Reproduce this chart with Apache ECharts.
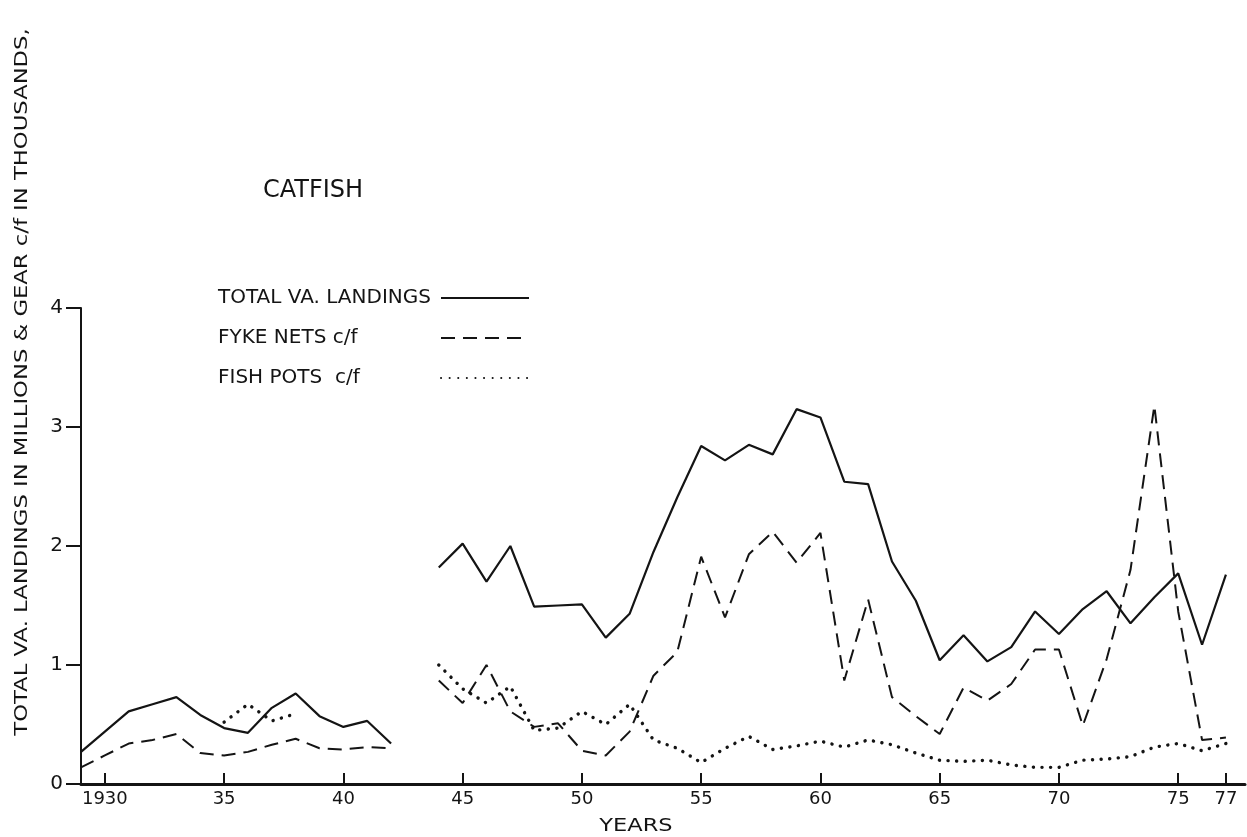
<!DOCTYPE html>
<html>
<head>
<meta charset="utf-8">
<script src="https://cdn.jsdelivr.net/npm/echarts@6/dist/echarts.min.js"></script>
<style>
html,body{margin:0;padding:0;background:#fff;}
#chart{width:1247px;height:837px;}
</style>
</head>
<body>
<div id="chart"></div>
<script>
// ---- data ----
const years = [1929,1930,1931,1932,1933,1934,1935,1936,1937,1938,1939,1940,1941,1942,1943,
  1944,1945,1946,1947,1948,1949,1950,1951,1952,1953,1954,1955,1956,1957,1958,1959,1960,
  1961,1962,1963,1964,1965,1966,1967,1968,1969,1970,1971,1972,1973,1974,1975,1976,1977];

const totalLandings = [0.27,0.44,0.61,0.67,0.73,0.58,0.47,0.43,0.64,0.76,0.57,0.48,0.53,0.34,null,
  1.82,2.02,1.70,2.00,1.49,1.50,1.51,1.23,1.43,1.95,2.41,2.84,2.72,2.85,2.77,3.15,3.08,
  2.54,2.52,1.87,1.54,1.04,1.25,1.03,1.15,1.45,1.26,1.47,1.62,1.35,1.57,1.77,1.17,1.76];

const fykeNets = [0.14,0.24,0.34,0.37,0.42,0.26,0.24,0.27,0.33,0.38,0.30,0.29,0.31,0.30,null,
  0.87,0.68,1.00,0.61,0.48,0.51,0.28,0.24,0.44,0.91,1.11,1.91,1.40,1.93,2.12,1.86,2.11,
  0.87,1.55,0.73,0.57,0.42,0.81,0.70,0.84,1.13,1.13,0.49,1.05,1.80,3.18,1.45,0.37,0.39];

const fishPots = [null,null,null,null,null,null,0.52,0.67,0.53,0.59,null,null,null,null,null,
  1.00,0.80,0.68,0.82,0.45,0.47,0.61,0.50,0.67,0.37,0.30,0.18,0.30,0.40,0.29,0.32,0.36,
  0.31,0.37,0.33,0.26,0.20,0.19,0.20,0.16,0.14,0.14,0.20,0.21,0.23,0.31,0.34,0.28,0.34];

const xTickValues = [1930,1935,1940,1945,1950,1955,1960,1965,1970,1975,1977];
const xTickLabels = ['1930','35','40','45','50','55','60','65','70','75','77'];
const yTickValues = [0,1,2,3,4];

const seriesNames = ['TOTAL VA. LANDINGS', 'FYKE NETS c/f', 'FISH POTS  c/f'];
const chartTitle = 'CATFISH';
const yTitle = 'TOTAL VA. LANDINGS IN MILLIONS & GEAR c/f IN THOUSANDS,';
const xTitle = 'YEARS';

// ---- build ----
const FONT = '"DejaVu Sans", "Liberation Sans", sans-serif';
const INK = '#141414';
const toPairs = arr => years.map((y, i) => [y, arr[i] == null ? '-' : arr[i]]);

const chart = echarts.init(document.getElementById('chart'), null, {renderer: 'canvas'});
chart.setOption({
  animation: false,
  backgroundColor: '#ffffff',
  title: {
    text: chartTitle, left: 258, top: 174,
    textStyle: {fontFamily: FONT, fontSize: 24, fontWeight: 'normal', color: INK}
  },
  legend: {
    orient: 'vertical', left: 213, top: 283, align: 'right',
    itemWidth: 88, itemHeight: 14, itemGap: 20,
    data: seriesNames,
    itemStyle: {opacity: 0},
    formatter: n => '{a|' + n + '}',
    textStyle: {
      fontFamily: FONT, fontSize: 20, color: INK,
      rich: {a: {width: 218, align: 'left', fontFamily: FONT, fontSize: 20, color: INK}}
    },
    inactiveColor: '#999'
  },
  grid: {left: 81, right: 2, top: 308, bottom: 53, containLabel: false, outerBoundsMode: 'none'},
  xAxis: {
    type: 'value', min: 1929, max: 1977.8,
    axisLine: {show: true, onZero: false, lineStyle: {color: INK, width: 3}},
    axisTick: {show: true, inside: true, length: 11, customValues: xTickValues,
      lineStyle: {color: INK, width: 2}},
    axisLabel: {
      show: true, customValues: xTickValues, margin: 6,
      formatter: v => xTickLabels[xTickValues.indexOf(v)] || '',
      fontFamily: FONT, fontSize: 18, color: INK
    },
    splitLine: {show: false}
  },
  yAxis: {
    type: 'value', min: 0, max: 4, interval: 1,
    axisLine: {show: true, lineStyle: {color: INK, width: 2}},
    axisTick: {show: true, length: 15, customValues: yTickValues, lineStyle: {color: INK, width: 2}},
    axisLabel: {show: true, customValues: yTickValues, margin: 18, fontFamily: FONT, fontSize: 20, color: INK},
    splitLine: {show: false}
  },
  graphic: [
    {
      type: 'text', x: 22, y: 382, rotation: Math.PI / 2, scaleX: 1.26,
      style: {text: yTitle, font: '18px ' + FONT, fill: INK,
        align: 'center', verticalAlign: 'middle', textAlign: 'center', textVerticalAlign: 'middle'}
    },
    {
      type: 'text', x: 636, y: 826, scaleX: 1.25,
      style: {text: xTitle, font: '18px ' + FONT, fill: INK,
        align: 'center', verticalAlign: 'middle', textAlign: 'center', textVerticalAlign: 'middle'}
    }
  ],
  series: [
    {
      name: seriesNames[0], type: 'line', data: toPairs(totalLandings),
      symbol: 'none', connectNulls: false, color: INK,
      lineStyle: {color: INK, width: 2.2, type: 'solid'}
    },
    {
      name: seriesNames[1], type: 'line', data: toPairs(fykeNets),
      symbol: 'none', connectNulls: false, color: INK,
      lineStyle: {color: INK, width: 2, type: [14, 8]}
    },
    {
      name: seriesNames[2], type: 'line', data: toPairs(fishPots),
      symbol: 'none', connectNulls: false, color: INK,
      lineStyle: {color: INK, width: 3.4, type: [0.1, 8.5], cap: 'round'}
    }
  ]
});
</script>
</body>
</html>
